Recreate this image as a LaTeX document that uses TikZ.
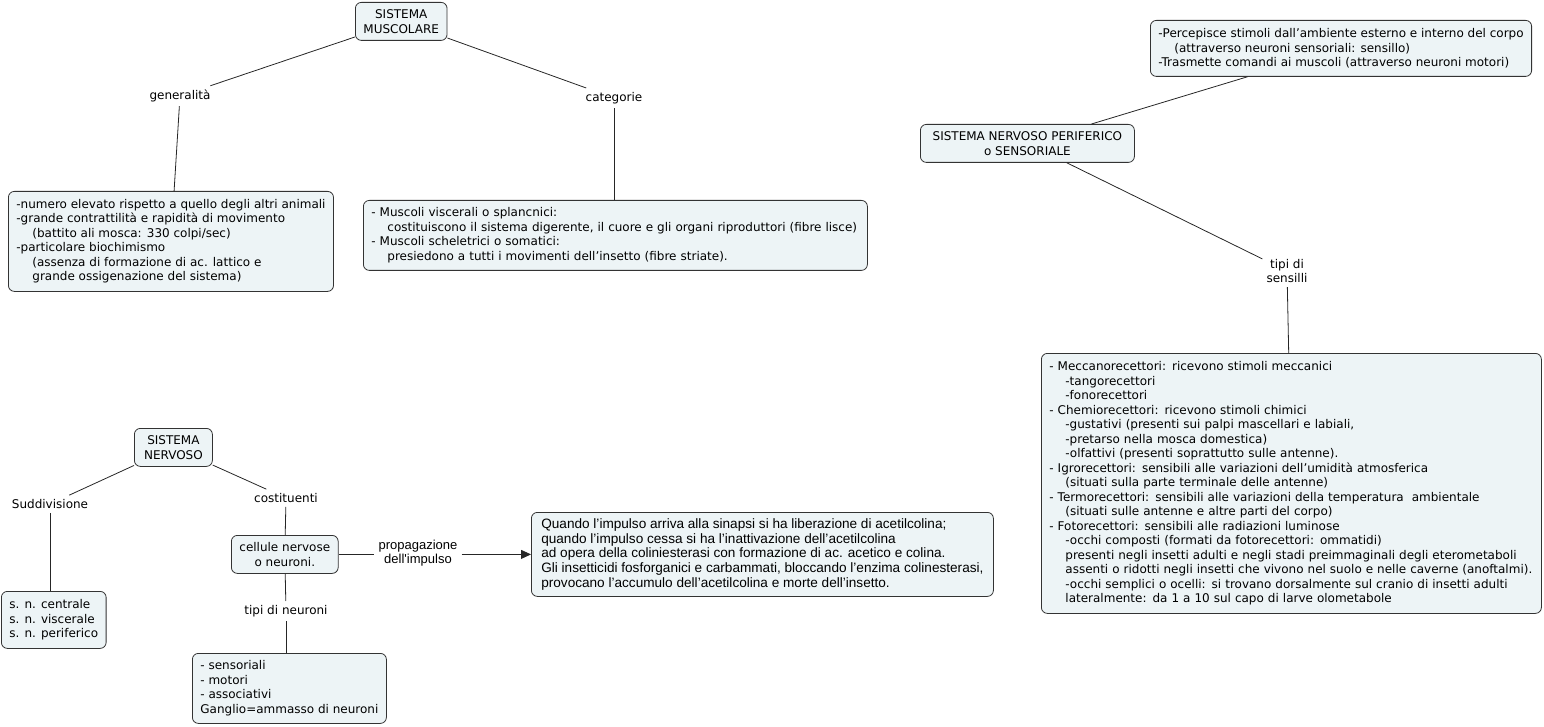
\documentclass[tikz,border=0pt]{standalone}
\usepackage{fontspec}
\setmainfont{DejaVu Sans}
\newfontfamily\narrowfont{Liberation Sans}
\usetikzlibrary{arrows.meta}
\definecolor{boxfill}{HTML}{EDF4F6}
\definecolor{boxline}{HTML}{333333}
\newcommand\ind{\hspace*{16pt}}
\begin{document}
\begin{tikzpicture}[x=1pt,y=-1pt,
  font=\fontsize{12}{14.5}\selectfont,
  box/.style={draw=boxline, fill=boxfill, rounded corners=6pt, line width=0.8pt, inner xsep=8pt, inner ysep=3pt},
  lbox/.style={box, align=left, anchor=north west},
  cbox/.style={box, align=center, anchor=north west},
  lbl/.style={align=center, inner sep=4pt},
  conn/.style={line width=0.8pt, draw=black!85}
]
\useasboundingbox (0,0) rectangle (1544,727);
% ---- Sistema muscolare
\node[cbox, minimum width=90, minimum height=38] (sm) at (355,2) {SISTEMA\\MUSCOLARE};
\node[lbl] (gen) at (180,96) {generalità};
\node[lbl] (cat) at (614,98) {categorie};
\node[lbox, minimum height=100] (genbox) at (8,191) {-numero elevato rispetto a quello degli altri animali\\-grande contrattilità e rapidità di movimento\\\ind(battito ali mosca: 330 colpi/sec)\\-particolare biochimismo\\\ind(assenza di formazione di ac. lattico e\\\ind grande ossigenazione del sistema)};
\node[lbox, text width=488, minimum height=70] (catbox) at (363,200) {- Muscoli viscerali o splancnici:\\\ind costituiscono il sistema digerente, il cuore e gli organi riproduttori (fibre lisce)\\- Muscoli scheletrici o somatici:\\\ind presiedono a tutti i movimenti dell’insetto (fibre striate).};
\draw[conn] (sm) -- (gen);
\draw[conn] (gen) -- (genbox);
\draw[conn] (sm) -- (cat);
\draw[conn] (cat) -- (catbox.north -| cat);
% ---- Sistema nervoso periferico
\node[cbox, minimum width=214, minimum height=38] (snp) at (920,124) {SISTEMA NERVOSO PERIFERICO\\o SENSORIALE};
\node[lbox, minimum height=56] (perc) at (1150,20) {-Percepisce stimoli dall’ambiente esterno e interno del corpo\\\ind(attraverso neuroni sensoriali: sensillo)\\-Trasmette comandi ai muscoli (attraverso neuroni motori)};
\node[lbl] (tipi) at (1287,271) {tipi di\\sensilli};
\node[lbox, text width=484, minimum height=260] (sens) at (1041,353) {- Meccanorecettori: ricevono stimoli meccanici\\\ind-tangorecettori\\\ind-fonorecettori\\- Chemiorecettori: ricevono stimoli chimici\\\ind-gustativi (presenti sui palpi mascellari e labiali,\\\ind-pretarso nella mosca domestica)\\\ind-olfattivi (presenti soprattutto sulle antenne).\\- Igrorecettori: sensibili alle variazioni dell’umidità atmosferica\\\ind(situati sulla parte terminale delle antenne)\\- Termorecettori: sensibili alle variazioni della temperatura\ \ ambientale\\\ind(situati sulle antenne e altre parti del corpo)\\- Fotorecettori: sensibili alle radiazioni luminose\\\ind-occhi composti (formati da fotorecettori: ommatidi)\\\ind presenti negli insetti adulti e negli stadi preimmaginali degli eterometaboli\\\ind assenti o ridotti negli insetti che vivono nel suolo e nelle caverne (anoftalmi).\\\ind-occhi semplici o ocelli: si trovano dorsalmente sul cranio di insetti adulti\\\ind lateralmente: da 1 a 10 sul capo di larve olometabole};
\draw[conn] (snp) -- (perc);
\draw[conn] (snp) -- (tipi);
\draw[conn] (tipi) -- (sens);
% ---- Sistema nervoso
\node[cbox, minimum width=78, minimum height=38] (sn) at (134,428) {SISTEMA\\NERVOSO};
\node[lbl] (sudd) at (50,504) {Suddivisione};
\node[lbl] (cost) at (286,498) {costituenti};
\node[lbox, minimum height=57] (snbox) at (1,591) {s. n. centrale\\s. n. viscerale\\s. n. periferico};
\node[cbox, minimum width=106, minimum height=38] (cell) at (231,535) {cellule nervose\\o neuroni.};
\node[lbl] (tneur) at (286,611) {tipi di neuroni};
\node[lbox, minimum height=70] (gang) at (192,653) {- sensoriali\\- motori\\- associativi\\Ganglio=ammasso di neuroni};
\node[lbl, font=\narrowfont\fontsize{13}{14.5}\selectfont] (prop) at (418,553) {propagazione\\dell'impulso};
\node[lbox, minimum width=462, minimum height=84, font=\narrowfont\fontsize{13.6}{14.8}\selectfont] (acet) at (531,512) {Quando l’impulso arriva alla sinapsi si ha liberazione di acetilcolina;\\quando l’impulso cessa si ha l’inattivazione dell’acetilcolina\\ad opera della coliniesterasi con formazione di ac. acetico e colina.\\Gli insetticidi fosforganici e carbammati, bloccando l’enzima colinesterasi,\\provocano l’accumulo dell’acetilcolina e morte dell’insetto.};
\draw[conn] (sn) -- (sudd);
\draw[conn] (sudd) -- (sudd |- snbox.north);
\draw[conn] (sn) -- (cost);
\draw[conn] (cost) -- (cell);
\draw[conn] (cell) -- (tneur);
\draw[conn] (tneur) -- (tneur |- gang.north);
\draw[conn] (cell.east) -- (cell.east -| prop.west);
\draw[conn, -{Triangle[length=10pt,width=9pt]}] (prop.east |- acet.west) -- (acet.west);
\end{tikzpicture}
\end{document}
